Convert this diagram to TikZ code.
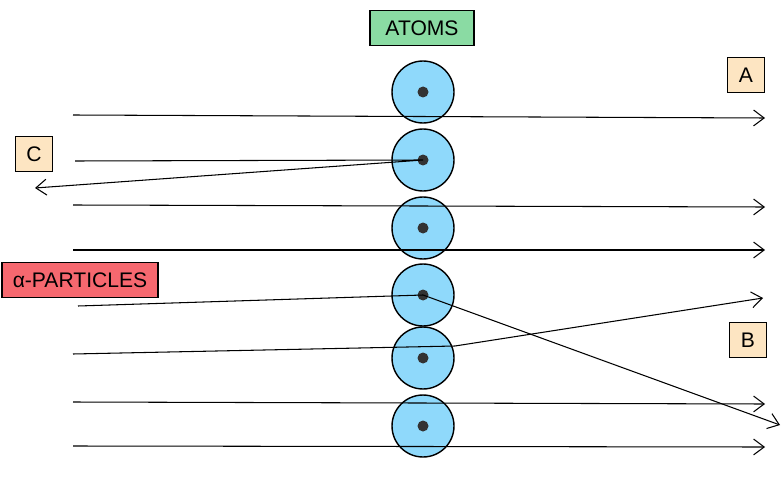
\documentclass[tikz,border=0pt]{standalone}
\usepackage{fontspec}
\setmainfont{Liberation Sans}
\usetikzlibrary{arrows.meta, positioning}

\definecolor{atomblue}{HTML}{8FD9FB}
\definecolor{labelgreen}{HTML}{8ADBA3}
\definecolor{labelred}{HTML}{F6686F}
\definecolor{labelsand}{HTML}{FDE5C2}

\begin{document}
\begin{tikzpicture}[x=0.02cm, y=-0.02cm, >={Straight Barb[length=6pt,width=9pt]}, thick]
    % Define styles locally
    \tikzstyle{atom} = [circle, draw, fill=atomblue, minimum size=1.24cm, inner sep=0pt]
    \tikzstyle{nucleus} = [circle, fill=black!80, minimum size=0.22cm, inner sep=0pt]
    \tikzstyle{tag} = [draw, fill=labelsand, minimum height=0.7cm, minimum width=0.74cm, font=\large]
    \tikzstyle{ray} = [semithick]

    \useasboundingbox (0,0) rectangle (783,476);

    % Labels
    \node[tag, fill=labelgreen, minimum width=2.08cm] (atoms) at (422,28) {ATOMS};
    \node[tag, fill=labelred, minimum width=3.12cm] (alpha) at (80,280) {α-PARTICLES};
    \node[tag] (A) at (746,75) {A};
    \node[tag] (B) at (748,340) {B};
    \node[tag] (C) at (34,154) {C};

    % Atoms
    \foreach \i/\y in {1/92, 2/160, 3/228, 4/295, 5/358, 6/426} {
        \node[atom] (atom\i) at (423,\y) {};
        \node[nucleus] (nuc\i) at (atom\i) {};
    }

    % Ends of the rays
    \foreach \n/\x/\y in {s1/73/115, e1/765/118, s2/75/161, e2/35/188,
                          s3/73/205, e3/765/207, s4/73/250, e4/765/250,
                          s5/78/306, e5/780/425, s6/73/354, k6/455/346, e6/763/298,
                          s7/73/402, e7/765/404, s8/73/446, e8/765/447}
        \coordinate (\n) at (\x,\y);

    % Rays
    \draw[ray, ->] (s1) -- (e1);
    \draw[ray, ->] (s2) -- (nuc2.center) -- (e2);
    \draw[ray, ->] (s3) -- (e3);
    \draw[ray, ->] (s4) -- (e4);
    \draw[ray, ->] (s5) -- (nuc4.center) -- (e5);
    \draw[ray, ->] (s6) -- (k6) -- (e6);
    \draw[ray, ->] (s7) -- (e7);
    \draw[ray, ->] (s8) -- (e8);

\end{tikzpicture}
\end{document}
